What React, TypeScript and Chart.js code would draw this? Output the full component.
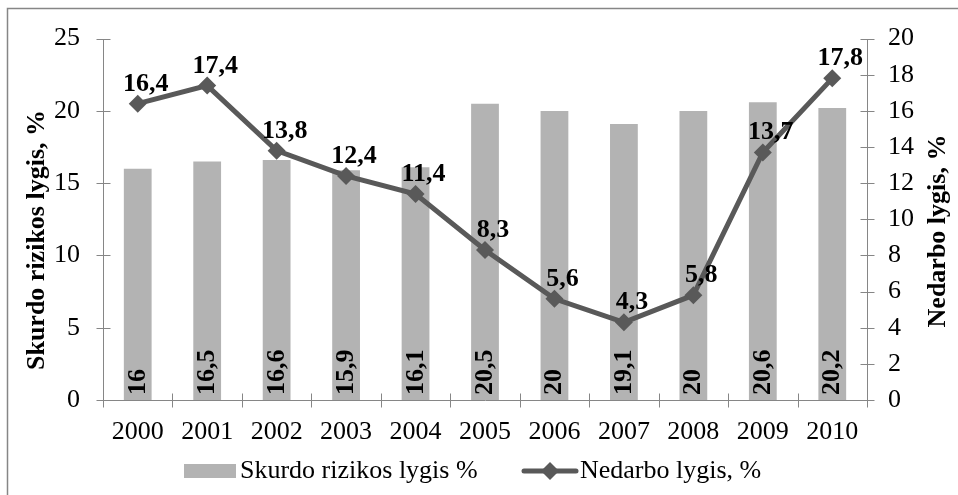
import React, { useEffect, useRef } from 'react';
import { Chart, registerables } from 'chart.js';

Chart.register(...registerables);

const categories = ['2000', '2001', '2002', '2003', '2004', '2005', '2006', '2007', '2008', '2009', '2010'];
const povertyRate = [16, 16.5, 16.6, 15.9, 16.1, 20.5, 20, 19.1, 20, 20.6, 20.2];
const unemploymentRate = [16.4, 17.4, 13.8, 12.4, 11.4, 8.3, 5.6, 4.3, 5.8, 13.7, 17.8];
const povertyLabel = 'Skurdo rizikos lygis %';
const unemploymentLabel = 'Nedarbo lygis, %';
const leftTitle = 'Skurdo rizikos lygis, %';
const rightTitle = 'Nedarbo lygis, %';

const FONT = '"Liberation Serif", "Times New Roman", serif';
const BAR_COLOR = '#B3B3B3';
const LINE_COLOR = '#595959';
const AXIS_COLOR = '#868686';

const fmt = (v: number) => String(v).replace('.', ',');

function diamond(ctx: CanvasRenderingContext2D, x: number, y: number, r: number) {
  ctx.beginPath();
  ctx.moveTo(x - r, y);
  ctx.lineTo(x, y - r);
  ctx.lineTo(x + r, y);
  ctx.lineTo(x, y + r);
  ctx.closePath();
  ctx.fill();
}

const decorPlugin = {
  id: 'decor',
  afterDraw(chart: any) {
    const ctx: CanvasRenderingContext2D = chart.ctx;
    const xs = chart.scales.x;
    const yL = chart.scales.y;
    const yR = chart.scales.y1;
    ctx.save();

    // outer border
    ctx.strokeStyle = AXIS_COLOR;
    ctx.lineWidth = 1.5;
    ctx.strokeRect(7.5, 8.5, 980, 520);

    // axis lines and ticks
    ctx.lineWidth = 1;
    ctx.strokeStyle = AXIS_COLOR;
    ctx.beginPath();
    const lx = Math.round(yL.right) + 0.5;
    const rx = Math.round(yR.left) + 0.5;
    const by = Math.round(yL.getPixelForValue(0)) + 0.5;
    ctx.moveTo(lx, Math.round(yL.top) + 0.5);
    ctx.lineTo(lx, by);
    ctx.moveTo(rx, Math.round(yR.top) + 0.5);
    ctx.lineTo(rx, by);
    ctx.moveTo(lx, by);
    ctx.lineTo(rx, by);
    yL.ticks.forEach((t: any) => {
      const py = Math.round(yL.getPixelForValue(t.value)) + 0.5;
      ctx.moveTo(lx - 7, py);
      ctx.lineTo(lx + 7, py);
    });
    yR.ticks.forEach((t: any) => {
      const py = Math.round(yR.getPixelForValue(t.value)) + 0.5;
      ctx.moveTo(rx - 7, py);
      ctx.lineTo(rx + 7, py);
    });
    for (let i = 0; i <= categories.length; i++) {
      const px = Math.round(xs.getPixelForValue(i - 0.5)) + 0.5;
      ctx.moveTo(px, by - 7);
      ctx.lineTo(px, by + 7);
    }
    ctx.stroke();

    // bar labels (rotated)
    ctx.fillStyle = '#000';
    ctx.font = `bold 26px ${FONT}`;
    const barMeta = chart.getDatasetMeta(0);
    barMeta.data.forEach((el: any, i: number) => {
      ctx.save();
      ctx.translate(el.x, el.base - 5);
      ctx.rotate(-Math.PI / 2);
      ctx.textAlign = 'left';
      ctx.textBaseline = 'alphabetic';
      ctx.fillText(fmt(povertyRate[i]), 0, 7);
      ctx.restore();
    });

    // line labels
    const lineMeta = chart.getDatasetMeta(1);
    ctx.textAlign = 'center';
    ctx.textBaseline = 'alphabetic';
    lineMeta.data.forEach((el: any, i: number) => {
      ctx.fillText(fmt(unemploymentRate[i]), el.x + 8, el.y - 13);
    });

    // axis titles
    ctx.font = `bold 26px ${FONT}`;
    ctx.textBaseline = 'middle';
    ctx.save();
    ctx.translate(37, 240);
    ctx.rotate(-Math.PI / 2);
    ctx.fillText(leftTitle, 0, 0);
    ctx.restore();
    ctx.save();
    ctx.translate(938, 231);
    ctx.rotate(-Math.PI / 2);
    ctx.fillText(rightTitle, 0, 0);
    ctx.restore();

    // legend
    const ly = 471;
    ctx.fillStyle = BAR_COLOR;
    ctx.fillRect(184, 464, 52, 14);
    ctx.fillStyle = '#000';
    ctx.font = `26px ${FONT}`;
    ctx.textAlign = 'left';
    ctx.textBaseline = 'middle';
    ctx.fillText(povertyLabel, 240, ly);
    ctx.strokeStyle = LINE_COLOR;
    ctx.lineWidth = 5;
    ctx.lineCap = 'round';
    ctx.beginPath();
    ctx.moveTo(524, ly);
    ctx.lineTo(576, ly);
    ctx.stroke();
    ctx.fillStyle = LINE_COLOR;
    diamond(ctx, 550, ly, 9);
    ctx.fillStyle = '#000';
    ctx.fillText(unemploymentLabel, 580, ly);

    ctx.restore();
  },
};

export default function App() {
  const ref = useRef<HTMLCanvasElement | null>(null);
  useEffect(() => {
    if (!ref.current) return;
    const chart = new Chart(ref.current, {
      type: 'bar',
      data: {
        labels: categories,
        datasets: [
          {
            type: 'bar',
            label: povertyLabel,
            data: povertyRate,
            backgroundColor: BAR_COLOR,
            yAxisID: 'y',
            categoryPercentage: 0.4,
            barPercentage: 1,
            order: 2,
          },
          {
            type: 'line',
            label: unemploymentLabel,
            data: unemploymentRate,
            borderColor: LINE_COLOR,
            backgroundColor: LINE_COLOR,
            borderWidth: 5,
            pointStyle: 'rectRot',
            pointRadius: 9,
            pointBorderWidth: 0,
            pointBackgroundColor: LINE_COLOR,
            tension: 0,
            yAxisID: 'y1',
            order: 1,
          } as any,
        ],
      },
      options: {
        responsive: false,
        animation: false,
        events: [],
        layout: { padding: { top: 38, left: 0, right: 0, bottom: 0 } },
        plugins: { legend: { display: false }, tooltip: { enabled: false } },
        scales: {
          x: {
            type: 'category',
            offset: true,
            grid: { display: false, drawTicks: false },
            border: { display: false },
            ticks: {
              color: '#000',
              font: { family: FONT, size: 26 },
              padding: 17,
              maxRotation: 0,
              autoSkip: false,
            },
            afterFit(s: any) {
              s.height = 95;
            },
          },
          y: {
            position: 'left',
            min: 0,
            max: 25,
            grid: { display: false, drawTicks: false },
            border: { display: false },
            ticks: { stepSize: 5, color: '#000', font: { family: FONT, size: 26 }, padding: 23 },
            afterFit(s: any) {
              s.width = 103;
            },
          },
          y1: {
            position: 'right',
            min: 0,
            max: 20,
            grid: { display: false, drawTicks: false },
            border: { display: false },
            ticks: { stepSize: 2, color: '#000', font: { family: FONT, size: 26 }, padding: 21 },
            afterFit(s: any) {
              s.width = 91;
            },
          },
        },
      },
      plugins: [decorPlugin],
    });
    return () => chart.destroy();
  }, []);
  return (
    <div style={{ position: 'absolute', left: 0, top: 0, width: 958, height: 495, background: '#fff' }}>
      <canvas ref={ref} width={958} height={495} style={{ display: 'block' }} />
    </div>
  );
}
